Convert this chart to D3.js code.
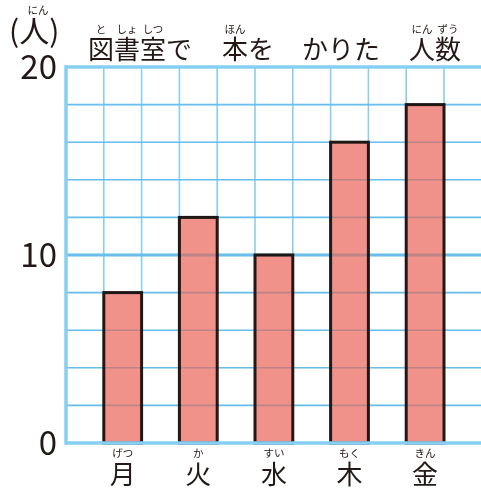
<!DOCTYPE html>
<html><head><meta charset="utf-8">
<script src="https://cdn.jsdelivr.net/npm/d3@7"></script>
<style>html,body{margin:0;padding:0;background:#fff;}svg{display:block;}</style>
</head><body>
<script>
const days = ["月","火","水","木","金"];
const dayRuby = ["げつ","か","すい","もく","きん"];
const counts = [8, 12, 10, 16, 18];
const yTicks = [0, 10, 20];
const titleParts = [
  {text:"図書室で", x:88, ruby:[{t:"と",i:0},{t:"しょ",i:1},{t:"しつ",i:2}]},
  {text:"本を", x:222, ruby:[{t:"ほん",i:0}]},
  {text:"かりた", x:302, ruby:[]},
  {text:"人数", x:409, ruby:[{t:"にん",i:0},{t:"ずう",i:1}]}
];

(function(){
const W=481,H=490;
const font = "'Noto Sans CJK JP','Noto Sans',sans-serif";
const svg = d3.select("body").append("svg").attr("width",W).attr("height",H);

const pLeft=66, pTop=67, pBottom=443;
const x = d3.scaleBand().domain(days).range([pLeft, 481.8]).paddingInner(0.5).paddingOuter(0.5);
const y = d3.scaleLinear().domain([0,20]).range([pBottom, pTop]);
const half = x.step()/2;
const blue = "#86cff2";

function drawGrid(g, withVertical){
  g.selectAll("line.h").data(d3.range(2,20,2).filter(v=>v!==10)).join("line")
    .attr("x1",pLeft).attr("x2",W).attr("y1",d=>y(d)).attr("y2",d=>y(d))
    .attr("stroke",blue).attr("stroke-width",1.6);
  if(withVertical){
    g.selectAll("line.v").data(d3.range(1,11)).join("line")
      .attr("x1",d=>pLeft+d*half).attr("x2",d=>pLeft+d*half)
      .attr("y1",pTop).attr("y2",pBottom)
      .attr("stroke",blue).attr("stroke-width",1.6);
  }
  g.append("line").attr("x1",pLeft).attr("x2",W).attr("y1",y(10)).attr("y2",y(10))
    .attr("stroke",blue).attr("stroke-width",3);
}

const grid = svg.append("g");
drawGrid(grid, true);

svg.append("g").selectAll("rect").data(counts).join("rect")
  .attr("x",(d,i)=>x(days[i])).attr("width",x.bandwidth())
  .attr("y",d=>y(d)).attr("height",d=>y(0)-y(d))
  .attr("fill","#f0918a").attr("stroke","#231815").attr("stroke-width",3);

const over = svg.append("g").style("mix-blend-mode","multiply").attr("opacity",0.45);
drawGrid(over, false);

svg.append("line").attr("x1",pLeft-1).attr("x2",W).attr("y1",pTop).attr("y2",pTop).attr("stroke",blue).attr("stroke-width",3.5);
svg.append("line").attr("x1",pLeft-1).attr("x2",W).attr("y1",pBottom).attr("y2",pBottom).attr("stroke",blue).attr("stroke-width",3.5);
svg.append("line").attr("x1",pLeft).attr("x2",pLeft).attr("y1",pTop-1.5).attr("y2",pBottom+1.5).attr("stroke",blue).attr("stroke-width",3.5);

svg.append("g").selectAll("text").data(yTicks).join("text")
  .attr("x",57).attr("y",d=>y(d)).attr("dy","0.36em")
  .attr("text-anchor","end").attr("font-family",font).attr("font-size",33)
  .attr("fill","#231815").text(d=>d);

svg.append("g").selectAll("text").data(days).join("text")
  .attr("x",d=>x(d)+x.bandwidth()/2).attr("y",484)
  .attr("text-anchor","middle").attr("font-family",font).attr("font-size",26)
  .attr("fill","#231815").text(d=>d);
svg.append("g").selectAll("text").data(dayRuby).join("text")
  .attr("x",(d,i)=>x(days[i])+x.bandwidth()/2).attr("y",457)
  .attr("text-anchor","middle").attr("font-family",font).attr("font-size",10.5)
  .attr("fill","#231815").text(d=>d);

svg.append("text").attr("x",9).attr("y",42).attr("font-family",font).attr("font-size",30)
  .attr("fill","#231815").text("(人)");
svg.append("text").attr("x",38).attr("y",14).attr("text-anchor","middle").attr("font-family",font).attr("font-size",10.5)
  .attr("fill","#231815").text("にん");

const fs=26;
titleParts.forEach(p=>{
  svg.append("text").attr("x",p.x).attr("y",59).attr("font-family",font).attr("font-size",fs)
    .attr("fill","#231815").text(p.text);
  p.ruby.forEach(r=>{
    svg.append("text").attr("x",p.x+fs*r.i+fs/2).attr("y",33).attr("text-anchor","middle")
      .attr("font-family",font).attr("font-size",10.5).attr("fill","#231815").text(r.t);
  });
});
})();
</script>
</body></html>
